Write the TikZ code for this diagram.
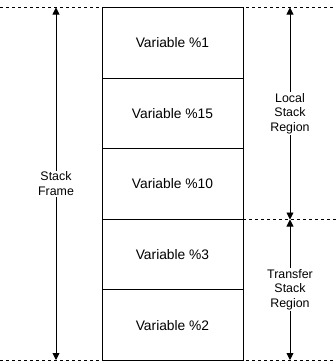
\documentclass[tikz,border=0pt]{standalone}
\usepackage{fontspec}
\setmainfont{Liberation Sans}
\usetikzlibrary{arrows.meta}
\begin{document}
\begin{tikzpicture}[x=1pt,y=-1pt,
  cell/.style={draw=black,line width=0.9pt,minimum width=141pt,minimum height=70.6pt,inner sep=0pt,font=\fontsize{13.8}{16}\selectfont},
  lbl/.style={fill=white,align=center,inner sep=1pt,font=\fontsize{12.4}{14.6}\selectfont},
  guide/.style={draw=black,dashed,dash pattern=on 3pt off 3pt,line width=0.8pt},
  dim/.style={draw=black,line width=0.9pt,{Triangle[width=7pt,length=7pt]}-{Triangle[width=7pt,length=7pt]}}]
\useasboundingbox (0,0) rectangle (336,362);
% dashed guides
\coordinate (tl) at (0,7.5);
\coordinate (tr) at (336,7.5);
\coordinate (ml) at (243,219.5);
\coordinate (mr) at (336,219.5);
\coordinate (bl) at (0,360);
\coordinate (br) at (336,360);
\draw[guide] (tl) -- (tr);
\draw[guide] (ml) -- (mr);
\draw[guide] (bl) -- (br);
% cells
\node[cell,fill=white] (v1) at (172.5,43) {Variable \%1};
\node[cell,fill=white] (v15) at (172.5,113.5) {Variable \%15};
\node[cell,fill=white] (v10) at (172.5,184) {Variable \%10};
\node[cell,fill=white] (v3) at (172.5,254.7) {Variable \%3};
\node[cell,fill=white] (v2) at (172.5,325.2) {Variable \%2};
% dimension arrows
\coordinate (sft) at (56,7.5);
\coordinate (sfb) at (56,360);
\coordinate (lt) at (290,7.5);
\coordinate (lb) at (290,219.5);
\coordinate (tt) at (290,219.5);
\coordinate (tb) at (290,360);
\draw[dim] (sft) -- (sfb) node[lbl,midway] (sf) {Stack\\Frame};
\draw[dim] (lt) -- (lb) node[lbl,pos=0.5] (lsr) {Local\\Stack\\Region};
\draw[dim] (tt) -- (tb) node[lbl,pos=0.5] (tsr) {Transfer\\Stack\\Region};
\end{tikzpicture}
\end{document}
